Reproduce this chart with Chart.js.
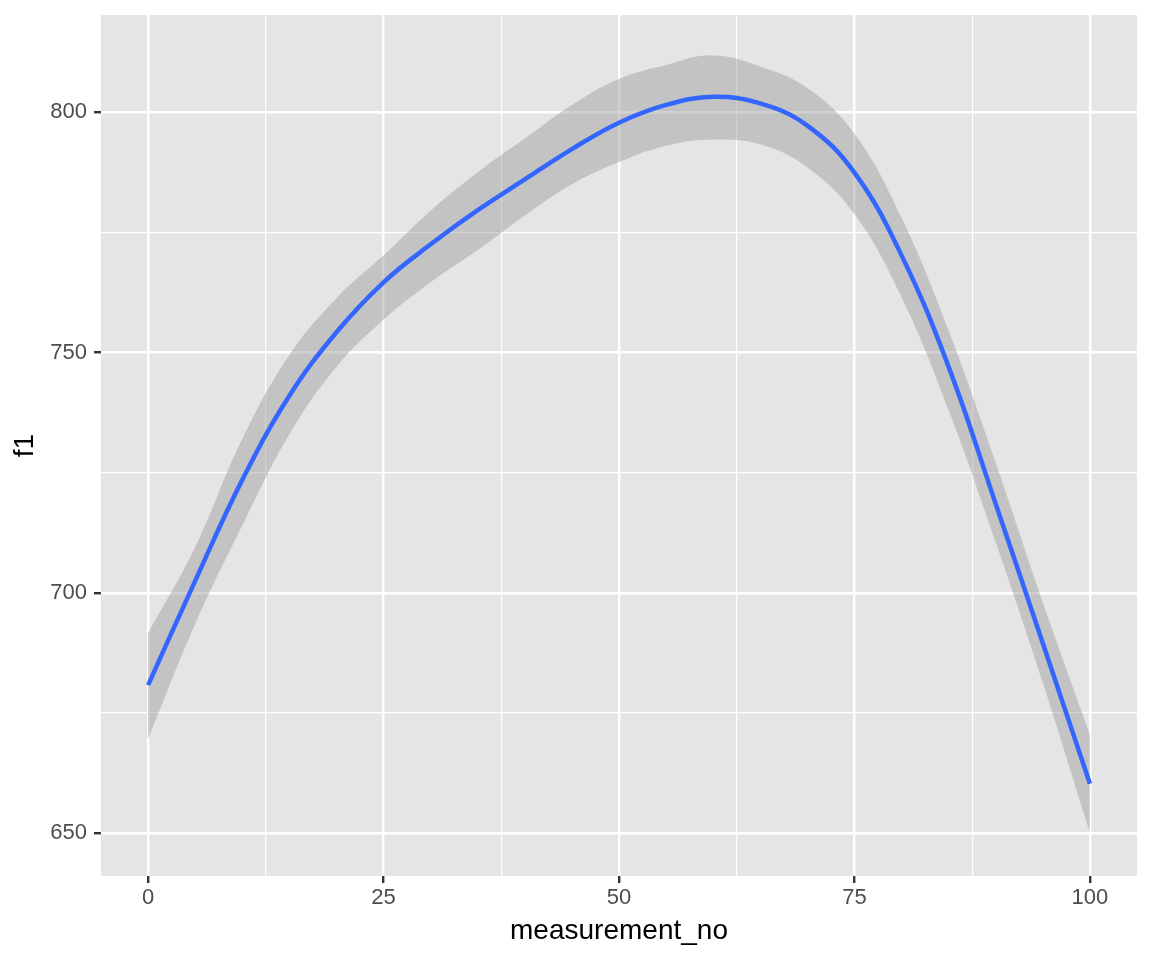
<!DOCTYPE html>
<html>
<head>
<meta charset="utf-8">
<script src="https://cdn.jsdelivr.net/npm/chart.js@4"></script>
<style>
  html, body { margin: 0; padding: 0; background: #fff; }
  #chart { display: block; }
</style>
</head>
<body>
<canvas id="chart" width="1152" height="960"></canvas>
<script>
// smoothed f1 by measurement number, with the confidence band
const measurementNo = [0, 5, 10, 15, 20, 25, 30, 35, 40, 45, 50, 55, 60, 65, 70, 75, 80, 85, 90, 95, 100];
const f1Fit = [680.8, 702.5, 723.5, 741.0, 754.2, 764.6, 772.5, 779.6, 786.0, 792.3, 797.8, 801.5, 803.2, 801.8, 797.2, 787.4, 770.2, 747.0, 718.5, 689.5, 660.3];
const f1Upper = [691.6, 709.5, 732.0, 749.5, 761.3, 770.2, 779.5, 787.5, 794.5, 801.5, 806.9, 809.8, 811.8, 809.5, 805.0, 795.5, 778.0, 754.5, 727.0, 698.0, 670.5];
const f1Lower = [669.6, 693.5, 714.0, 733.0, 747.0, 756.8, 764.6, 771.3, 778.5, 785.0, 789.6, 793.0, 794.3, 793.3, 788.5, 778.8, 761.5, 738.0, 710.5, 681.3, 650.1];

const xTicks = [0, 12.5, 25, 37.5, 50, 62.5, 75, 87.5, 100];
const xMajor = [0, 25, 50, 75, 100];
const yTicks = [650, 675, 700, 725, 750, 775, 800];
const yMajor = [650, 700, 750, 800];

Chart.defaults.font.family = "'Liberation Sans', Arial, Helvetica, sans-serif";

const toPoints = (ys) => measurementNo.map((x, i) => ({ x, y: ys[i] }));

const panelBackground = {
  id: 'panelBackground',
  beforeDraw(chart) {
    const { ctx, chartArea: a } = chart;
    ctx.save();
    ctx.fillStyle = '#E5E5E5';
    ctx.fillRect(a.left, a.top, a.right - a.left, a.bottom - a.top);
    ctx.restore();
  }
};

function gridFor(major) {
  const isMajor = (c) => c.tick && major.includes(c.tick.value);
  return {
    color: '#FFFFFF',
    lineWidth: (c) => isMajor(c) ? 2.4 : 1.2,
    tickColor: (c) => isMajor(c) ? '#333333' : 'rgba(0,0,0,0)',
    tickWidth: (c) => isMajor(c) ? 2.4 : 0.01,
    tickLength: 7,
    drawTicks: true
  };
}

new Chart(document.getElementById('chart'), {
  type: 'line',
  data: {
    datasets: [
      {
        label: 'fit',
        data: toPoints(f1Fit),
        borderColor: '#3366FF',
        borderWidth: 4.5,
        borderCapStyle: 'butt',
        pointRadius: 0,
        tension: 0.4,
        fill: false,
        order: 0
      },
      {
        label: 'upper',
        data: toPoints(f1Upper),
        borderColor: 'rgba(0,0,0,0)',
        borderWidth: 0,
        backgroundColor: 'rgba(153,153,153,0.45)',
        pointRadius: 0,
        tension: 0.4,
        fill: '+1',
        order: 1
      },
      {
        label: 'lower',
        data: toPoints(f1Lower),
        borderColor: 'rgba(0,0,0,0)',
        borderWidth: 0,
        pointRadius: 0,
        tension: 0.4,
        fill: false,
        order: 2
      }
    ]
  },
  options: {
    responsive: false,
    animation: false,
    events: [],
    layout: { padding: { top: 15, right: 15, left: 0, bottom: 0 } },
    plugins: { legend: { display: false }, tooltip: { enabled: false } },
    scales: {
      x: {
        type: 'linear',
        min: -5,
        max: 105,
        afterBuildTicks: (s) => { s.ticks = xTicks.map((v) => ({ value: v })); },
        afterFit: (s) => { s.height = 84; s.paddingLeft = 0; s.paddingRight = 0; },
        border: { display: false },
        grid: gridFor(xMajor),
        ticks: {
          autoSkip: false,
          maxRotation: 0,
          padding: 2,
          color: '#4D4D4D',
          font: { size: 22 },
          callback: (v) => xMajor.includes(v) ? String(v) : ''
        },
        title: {
          display: true,
          text: 'measurement_no',
          color: '#000000',
          font: { size: 28 },
          padding: { top: 12, bottom: 12 }
        }
      },
      y: {
        type: 'linear',
        min: 641.1,
        max: 820.2,
        afterBuildTicks: (s) => { s.ticks = yTicks.map((v) => ({ value: v })); },
        afterFit: (s) => { s.width = 101; s.paddingTop = 0; s.paddingBottom = 0; },
        border: { display: false },
        grid: gridFor(yMajor),
        ticks: {
          autoSkip: false,
          padding: 7,
          color: '#4D4D4D',
          font: { size: 22 },
          callback: (v) => yMajor.includes(v) ? String(v) : ''
        },
        title: {
          display: true,
          text: 'f1',
          color: '#000000',
          font: { size: 28 },
          padding: { top: 8, bottom: 0 }
        }
      }
    }
  },
  plugins: [panelBackground]
});
</script>
</body>
</html>
